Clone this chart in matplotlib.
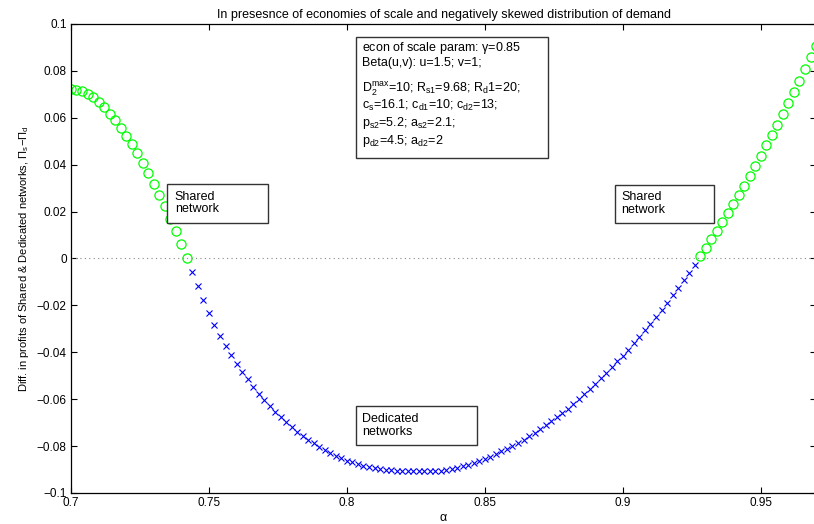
import matplotlib
matplotlib.use('Agg')
import matplotlib.pyplot as plt
import numpy as np
from matplotlib.patches import Rectangle
from matplotlib.ticker import FixedLocator, FixedFormatter

plt.rcParams['font.family'] = ['Liberation Sans', 'DejaVu Sans']
plt.rcParams['mathtext.default'] = 'regular'
plt.rcParams['axes.unicode_minus'] = True

# alpha sampled on a 0.002 grid from 0.70 to 0.97
alpha = np.round(np.arange(0.700, 0.9701, 0.002), 3)

# profit difference Pi_s - Pi_d at each alpha
profit_diff = [
    0.0721, 0.0720, 0.0714, 0.0702, 0.0687, 0.0668, 0.0644, 0.0618, 0.0590, 0.0557,
    0.0524, 0.0487, 0.0449, 0.0407, 0.0365, 0.0319, 0.0272, 0.0222, 0.0170, 0.0117,
    0.0061, 0.0003,
    -0.0056, -0.0117, -0.0179, -0.0234, -0.0283, -0.0330, -0.0373, -0.0412, -0.0449, -0.0484,
    -0.0516, -0.0547, -0.0577, -0.0604, -0.0629, -0.0654, -0.0675, -0.0697, -0.0718, -0.0738,
    -0.0755, -0.0772, -0.0788, -0.0803, -0.0818, -0.0829, -0.0842, -0.0852,
    -0.0862, -0.0870, -0.0877, -0.0884, -0.0889, -0.0894, -0.0898, -0.0901, -0.0904, -0.0906,
    -0.0907, -0.0908, -0.0908, -0.0908, -0.0908, -0.0907, -0.0906, -0.0905, -0.0902, -0.0897,
    -0.0892, -0.0886, -0.0879, -0.0872, -0.0863, -0.0855, -0.0845, -0.0835, -0.0823, -0.0812,
    -0.0799, -0.0786, -0.0772, -0.0758, -0.0744, -0.0728, -0.0711, -0.0694, -0.0677, -0.0658,
    -0.0640, -0.0620, -0.0600, -0.0578, -0.0557, -0.0534, -0.0511, -0.0489, -0.0464, -0.0439,
    -0.0415, -0.0389, -0.0362, -0.0335, -0.0306, -0.0278, -0.0249, -0.0219, -0.0188, -0.0157,
    -0.0125, -0.0093, -0.0060, -0.0026,
    0.0009, 0.0044, 0.0081, 0.0118, 0.0155, 0.0194, 0.0232, 0.0271, 0.0311, 0.0352,
    0.0393, 0.0437, 0.0482, 0.0526, 0.0571, 0.0617, 0.0664, 0.0712, 0.0759, 0.0808,
    0.0858, 0.0907,
]

x_ticks = [0.7, 0.75, 0.8, 0.85, 0.9, 0.95]
x_tick_labels = ['0.7', '0.75', '0.8', '0.85', '0.9', '0.95']
y_ticks = [-0.1, -0.08, -0.06, -0.04, -0.02, 0, 0.02, 0.04, 0.06, 0.08, 0.1]
y_tick_labels = ['\u22120.1', '\u22120.08', '\u22120.06', '\u22120.04', '\u22120.02', '0',
                 '0.02', '0.04', '0.06', '0.08', '0.1']

param_lines = [
    r'econ of scale param: $\gamma$=0.85',
    'Beta(u,v): u=1.5; v=1;',
    r'D$_2^{max}$=10; R$_{s1}$=9.68; R$_d$1=20;',
    r'c$_s$=16.1; c$_{d1}$=10; c$_{d2}$=13;',
    r'p$_{s2}$=5.2; a$_{s2}$=2.1;',
    r'p$_{d2}$=4.5; a$_{d2}$=2',
]

alpha = np.asarray(alpha)
profit_diff = np.asarray(profit_diff)
shared = profit_diff >= 0

fig = plt.figure(figsize=(8.14, 5.24), dpi=100)
ax = fig.add_axes([0.0872, 0.0592, 0.9153, 0.8950])

ax.plot(alpha[shared], profit_diff[shared], 'o', linestyle='none',
        markerfacecolor='none', markeredgecolor='#00ff00', markersize=6.6,
        markeredgewidth=0.9)
ax.plot(alpha[~shared], profit_diff[~shared], 'x', linestyle='none',
        color='#0000ff', markersize=4.0, markeredgewidth=0.8)

ax.axhline(0, color='#888888', linestyle=(0, (1, 3)), linewidth=0.8)

ax.set_xlim(0.7, 0.97)
ax.set_ylim(-0.1, 0.1)
ax.xaxis.set_major_locator(FixedLocator(x_ticks))
ax.xaxis.set_major_formatter(FixedFormatter(x_tick_labels))
ax.yaxis.set_major_locator(FixedLocator(y_ticks))
ax.yaxis.set_major_formatter(FixedFormatter(y_tick_labels))
ax.tick_params(direction='in', top=True, right=True, length=4, width=0.8,
               labelsize=8.5, pad=3)
for sp in ax.spines.values():
    sp.set_linewidth(0.9)

ax.set_title('In presesnce of economies of scale and negatively skewed distribution of demand',
             fontsize=9, pad=4)
ax.set_xlabel(r'$\alpha$', fontsize=9, labelpad=2)
ax.set_ylabel('Diff. in profits of Shared & Dedicated networks, $\\Pi_s$\u2212$\\Pi_d$',
              fontsize=8, labelpad=4)


def note_box(x0, y0, x1, y1):
    ax.add_patch(Rectangle((x0, y0), x1 - x0, y1 - y0, facecolor='white',
                           edgecolor='#333333', linewidth=1.0, zorder=5))


# parameter summary
note_box(0.8033, 0.0430, 0.8728, 0.0945)
for txt, yy in zip(param_lines, [0.0897, 0.0834, 0.0723, 0.0651, 0.0579, 0.0502]):
    ax.text(0.8055, yy, txt, fontsize=9, va='center', ha='left', zorder=6)

# region labels
note_box(0.7348, 0.0153, 0.7714, 0.0319)
ax.text(0.7376, 0.0237, 'Shared\nnetwork', fontsize=9, va='center', ha='left',
        linespacing=1.05, zorder=6)
note_box(0.8971, 0.0153, 0.9330, 0.0315)
ax.text(0.8995, 0.0235, 'Shared\nnetwork', fontsize=9, va='center', ha='left',
        linespacing=1.05, zorder=6)
note_box(0.8033, -0.0796, 0.8471, -0.0630)
ax.text(0.8056, -0.0713, 'Dedicated\nnetworks', fontsize=9, va='center', ha='left',
        linespacing=1.1, zorder=6)

fig.savefig('out.png', dpi=100)
